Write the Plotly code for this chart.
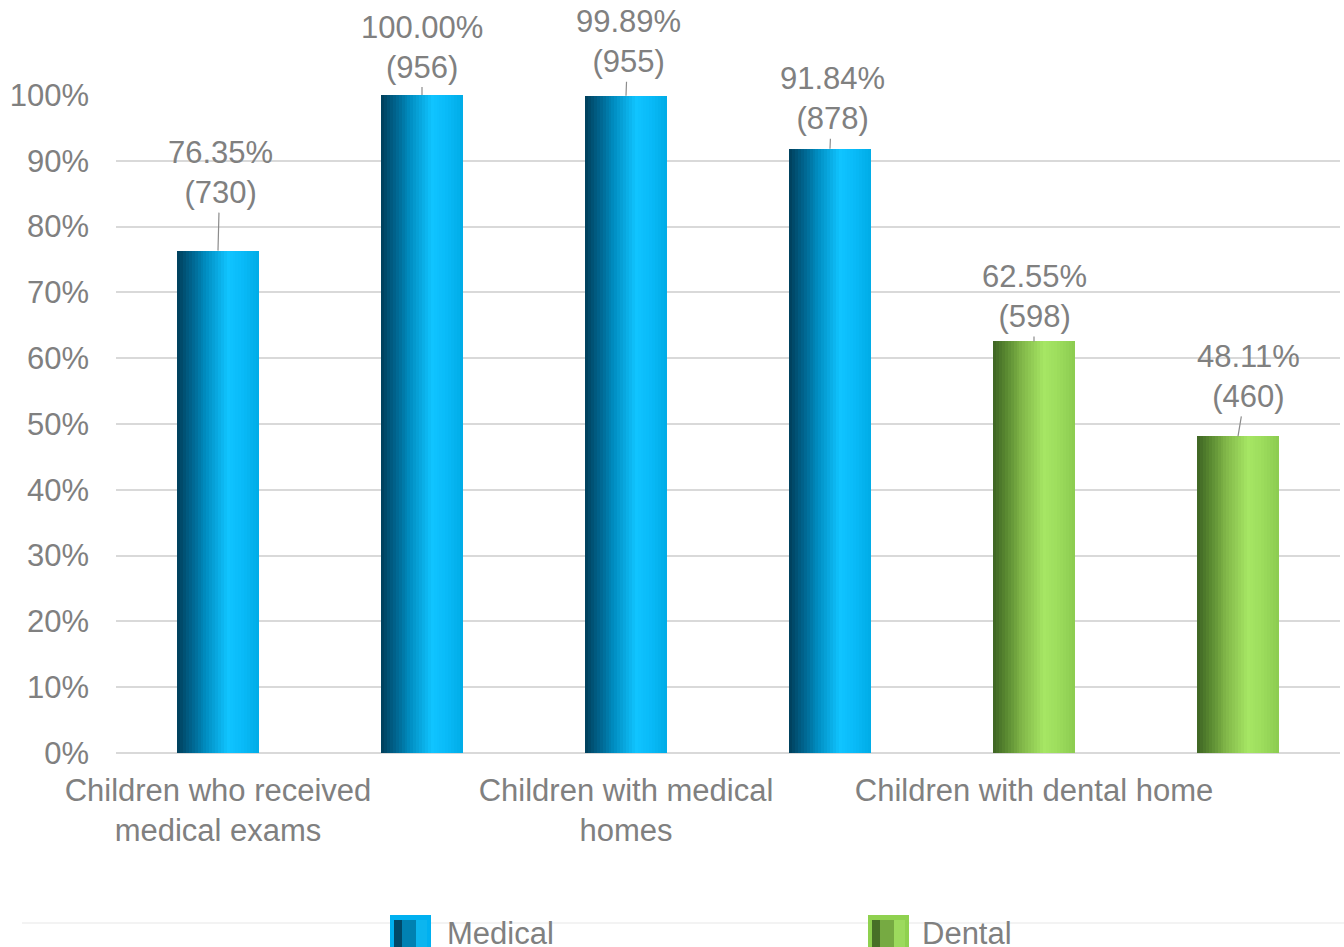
import plotly.graph_objects as go

# Data
tick_labels = ["Children who received<br>medical exams", "", "Children with medical<br>homes", "",
               "Children with dental home", ""]
series_names = ["Medical", "Medical", "Medical", "Medical", "Dental", "Dental"]
percent_values = [76.35, 100.00, 99.89, 91.84, 62.55, 48.11]
counts = [730, 956, 955, 878, 598, 460]
y_ticks = [0, 10, 20, 30, 40, 50, 60, 70, 80, 90, 100]

FONT = "Liberation Sans, Arial, sans-serif"
TEXT = "#808080"
FS = 31

# Horizontal cylinder-like shading for each series
gradients = {
    "Medical": [(0.00, (0, 62, 90)), (0.15, (0, 95, 135)), (0.35, (0, 140, 192)),
                (0.62, (16, 196, 255)), (0.78, (10, 188, 250)), (1.00, (0, 172, 230))],
    "Dental": [(0.00, (62, 100, 35)), (0.15, (88, 135, 48)), (0.35, (128, 182, 72)),
               (0.62, (166, 230, 100)), (0.78, (158, 222, 94)), (1.00, (140, 204, 80))],
}
swatch_colors = {"Medical": "#00b0f0", "Dental": "#8fd14f"}


def shade(stops, t):
    for (p0, c0), (p1, c1) in zip(stops, stops[1:]):
        if p0 <= t <= p1:
            f = (t - p0) / (p1 - p0)
            r, g, b = (round(a + (bb - a) * f) for a, bb in zip(c0, c1))
            return f"rgb({r},{g},{b})"
    r, g, b = stops[-1][1]
    return f"rgb({r},{g},{b})"


BAR_W = 0.40
N = 28
fig = go.Figure()
x_idx = list(range(len(percent_values)))

for name in ["Medical", "Dental"]:
    xs = [i for i in x_idx if series_names[i] == name]
    ys = [percent_values[i] for i in xs]
    step = BAR_W / N
    for k in range(N):
        t = (k + 0.5) / N
        w = step * 1.6 if k < N - 1 else step
        fig.add_trace(go.Bar(
            x=xs, y=ys, width=w, offset=-BAR_W / 2 + k * step,
            marker=dict(color=shade(gradients[name], t), line=dict(width=0)),
            showlegend=False, hoverinfo="skip" if k else "y", name=name,
        ))

# Data labels with leader lines
label_offsets = [(2, -78), (0, -48), (2, -54), (2, -50), (0, -45), (10, -60)]
for i, (v, c) in enumerate(zip(percent_values, counts)):
    dx, dy = label_offsets[i]
    fig.add_annotation(
        x=i, y=v, xref="x", yref="y",
        text=f"{v:.2f}%<br>({c})",
        showarrow=True, arrowhead=0, arrowwidth=1.2, arrowcolor="#8c8c8c",
        ax=dx, ay=dy, standoff=0, startstandoff=1,
        font=dict(family=FONT, size=FS, color=TEXT),
    )

# Legend row below the chart (swatch + name for each series)
PLOT_H = 947 - 95 - 194
PLOT_W = 1344 - 116 - 4


def py(pixel_y):
    return (753 - pixel_y) / PLOT_H


def px(pixel_x):
    return (pixel_x - 116) / PLOT_W


# faint separator above the legend row
fig.add_shape(type="line", xref="paper", yref="paper", x0=px(22), x1=px(1344),
              y0=py(923), y1=py(923), line=dict(color="#f3f3f3", width=2))

legend_items = [("Medical", 390, 445), ("Dental", 868, 920)]
for name, sx, tx in legend_items:
    stops = gradients[name]
    fig.add_shape(type="rect", xref="paper", yref="paper",
                  x0=px(sx), x1=px(sx + 41), y0=py(960), y1=py(915),
                  fillcolor=swatch_colors[name], line=dict(width=0), layer="above")
    fig.add_shape(type="rect", xref="paper", yref="paper",
                  x0=px(sx + 4), x1=px(sx + 12), y0=py(960), y1=py(920),
                  fillcolor=shade(stops, 0.05), line=dict(width=0), layer="above")
    fig.add_shape(type="rect", xref="paper", yref="paper",
                  x0=px(sx + 12), x1=px(sx + 26), y0=py(960), y1=py(920),
                  fillcolor=shade(stops, 0.3), line=dict(width=0), layer="above")
    fig.add_shape(type="rect", xref="paper", yref="paper",
                  x0=px(sx + 26), x1=px(sx + 37), y0=py(960), y1=py(920),
                  fillcolor=shade(stops, 0.55), line=dict(width=0), layer="above")
    fig.add_annotation(x=px(tx), y=py(933), xref="paper", yref="paper",
                       text=name, showarrow=False, xanchor="left", yanchor="middle",
                       font=dict(family=FONT, size=FS, color=TEXT))

fig.update_layout(
    width=1344, height=947,
    margin=dict(l=116, r=4, t=95, b=194),
    paper_bgcolor="white", plot_bgcolor="white",
    barmode="overlay", bargap=0,
    showlegend=False,
    font=dict(family=FONT, size=FS, color=TEXT),
)
fig.update_xaxes(
    range=[-0.5, 5.5], tickmode="array",
    tickvals=[i for i, t in enumerate(tick_labels) if t],
    ticktext=[t for t in tick_labels if t],
    showgrid=False, zeroline=False, showline=False, ticks="",
    tickfont=dict(family=FONT, size=FS, color=TEXT), ticklabelstandoff=16,
)
fig.update_yaxes(
    range=[0, 100], tickmode="array", tickvals=y_ticks,
    ticktext=[f"{t}%" for t in y_ticks],
    showgrid=True, gridcolor="#d9d9d9", gridwidth=2,
    zeroline=True, zerolinecolor="#d9d9d9", zerolinewidth=2,
    showline=False, ticks="", ticklabelstandoff=26,
    tickfont=dict(family=FONT, size=FS, color=TEXT),
)
for tr in fig.data:
    tr.cliponaxis = False

fig.write_html("out.html")
